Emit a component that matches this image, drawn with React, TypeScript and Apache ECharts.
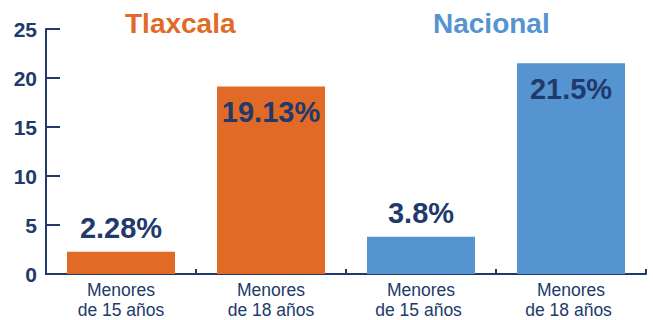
import React, { useEffect, useRef } from "react";
import * as echarts from "echarts";

const categories = ["Menores\nde 15 años", "Menores\nde 18 años", "Menores\nde 15 años ", "Menores\nde 18 años "];
const values = [2.28, 19.13, 3.8, 21.5];
const valueLabels = ["2.28%", "19.13%", "3.8%", "21.5%"];
const groups = ["Tlaxcala", "Nacional"];
const yTicks = [0, 5, 10, 15, 20, 25];

const NAVY = "#213a6b";
const ORANGE = "#e06a26";
const BLUE = "#5593d1";
const FONT = "Liberation Sans, Arial, sans-serif";

export default function App() {
  const ref = useRef<HTMLDivElement>(null);
  useEffect(() => {
    if (!ref.current) return;
    const chart = echarts.init(ref.current, null, { renderer: "svg" });
    const colors = [ORANGE, ORANGE, BLUE, BLUE];
    chart.setOption({
      animation: false,
      grid: { left: 46, right: 7, top: 29, bottom: 46, containLabel: false },
      graphic: [
        {
          type: "text",
          left: 125,
          top: 9,
          style: { text: groups[0], fill: ORANGE, font: `bold 28px ${FONT}` },
        },
        {
          type: "text",
          left: 433,
          top: 9,
          style: { text: groups[1], fill: BLUE, font: `bold 28px ${FONT}` },
        },
      ],
      xAxis: {
        type: "category",
        data: categories,
        axisLine: { lineStyle: { color: NAVY, width: 2 } },
        axisTick: { show: true, inside: true, length: 5, lineStyle: { color: NAVY, width: 2 } },
        axisLabel: {
          color: NAVY,
          fontFamily: FONT,
          fontSize: 17.5,
          lineHeight: 20,
          margin: 6,
          interval: 0,
        },
      },
      yAxis: {
        type: "value",
        min: yTicks[0],
        max: yTicks[yTicks.length - 1],
        interval: 5,
        splitLine: { show: false },
        axisLine: { show: true, lineStyle: { color: NAVY, width: 2 } },
        axisTick: { show: true, inside: true, length: 14, lineStyle: { color: NAVY, width: 2 } },
        axisLabel: {
          color: NAVY,
          fontFamily: FONT,
          fontSize: 21,
          fontWeight: "bold",
          margin: 9,
        },
      },
      series: [
        {
          type: "bar",
          barWidth: "72%",
          data: values.map((v, i) => ({
            value: v,
            itemStyle: { color: colors[i] },
            label: {
              show: true,
              position: v > 10 ? "insideTop" : "top",
              distance: v > 10 ? 11 : 9,
              formatter: valueLabels[i],
              color: NAVY,
              fontFamily: FONT,
              fontSize: 29,
              fontWeight: "bold",
            },
          })),
        },
      ],
    });
    return () => chart.dispose();
  }, []);
  return <div ref={ref} style={{ width: 653, height: 320, position: "absolute", left: 0, top: 0 }} />;
}
